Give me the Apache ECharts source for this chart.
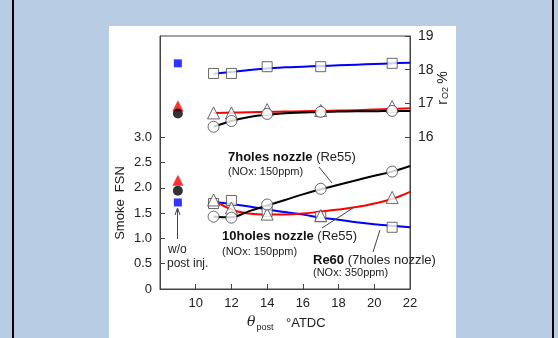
<!DOCTYPE html>
<html>
<head>
<meta charset="utf-8">
<script src="https://cdn.jsdelivr.net/npm/echarts@6/dist/echarts.min.js"></script>
<style>html,body{margin:0;padding:0;background:#b8cce4}#c{width:558px;height:338px}</style>
</head>
<body>
<div id="c"></div>
<script>
// ---- data ----
const xPost = [11, 12, 14, 17, 21];          // θpost, °ATDC
const xWo = [9];                              // "w/o post inj." position
const xFit = [11, 12, 13, 14, 15, 16, 17, 18, 19, 20, 21, 22];
const xTicks = [10, 12, 14, 16, 18, 20, 22];
const smokeTicks = [0, 0.5, 1.0, 1.5, 2.0, 2.5, 3.0];
const o2Ticks = [16, 17, 18, 19];

// O2 concentration (right axis, %)
const o2Re60 = [17.89, 17.89, 18.09, 18.09, 18.19];
const o2Ten = [16.72, 16.72, 16.82, 16.79, 16.91];
const o2Seven = [16.31, 16.48, 16.69, 16.75, 16.78];
const o2Re60Fit = [17.88, 17.93, 17.99, 18.04, 18.07, 18.09, 18.11, 18.13, 18.15, 18.17, 18.19, 18.21];
const o2TenFit = [16.72, 16.73, 16.74, 16.75, 16.76, 16.77, 16.78, 16.79, 16.80, 16.82, 16.84, 16.86];
const o2SevenFit = [16.31, 16.48, 16.60, 16.67, 16.71, 16.73, 16.75, 16.76, 16.77, 16.77, 16.78, 16.78];
const o2WoRe60 = [18.19];
const o2WoTen = [16.93];
const o2WoSeven = [16.70];

// Smoke FSN (left axis)
const smkSeven = [1.43, 1.41, 1.67, 1.98, 2.32];
const smkTen = [1.76, 1.60, 1.48, 1.45, 1.81];
const smkRe60 = [1.69, 1.75, 1.53, 1.43, 1.22];
const smkSevenFit = [1.43, 1.42, 1.54, 1.65, 1.76, 1.87, 1.97, 2.06, 2.15, 2.24, 2.32, 2.43];
const smkTenFit = [1.76, 1.57, 1.49, 1.47, 1.47, 1.49, 1.53, 1.57, 1.62, 1.69, 1.78, 1.92];
const smkRe60Fit = [1.72, 1.68, 1.63, 1.57, 1.52, 1.47, 1.41, 1.37, 1.32, 1.28, 1.25, 1.22];
const smkWoSeven = [1.94];
const smkWoTen = [2.15];
const smkWoRe60 = [1.71];

// ---- build ----
const pairs = (xs, ys) => xs.map((x, i) => [x, ys[i]]);
const FONT = '"Liberation Sans", Arial, sans-serif';
const AX = '#444';

function fitLine(xs, ys, color, yIdx) {
  return { type: 'line', data: pairs(xs, ys), yAxisIndex: yIdx, smooth: 0.4, showSymbol: false,
    lineStyle: { color: color, width: 2 }, silent: true, z: 2 };
}
function openMarks(xs, ys, symbol, size, yIdx, z) {
  return { type: 'scatter', data: pairs(xs, ys), yAxisIndex: yIdx, symbol: symbol, symbolSize: size,
    itemStyle: { color: '#fff', borderColor: '#444', borderWidth: 1 }, z: z };
}
function filledMarks(xs, ys, symbol, size, color, yIdx) {
  return { type: 'scatter', data: pairs(xs, ys), yAxisIndex: yIdx, symbol: symbol, symbolSize: size,
    itemStyle: { color: color }, z: 5 };
}

const chart = echarts.init(document.getElementById('c'), null, { renderer: 'canvas' });
chart.setOption({
  backgroundColor: '#b8cce4',
  animation: false,
  textStyle: { fontFamily: FONT },
  grid: { left: 160, right: 148, top: 36, bottom: 49, show: true, borderColor: AX, borderWidth: 1, backgroundColor: 'transparent' },
  xAxis: {
    type: 'value', min: 8, max: 22, interval: 2,
    axisLine: { show: true, onZero: false, lineStyle: { color: AX } },
    axisTick: { show: true, inside: true, length: 5, customValues: xTicks, lineStyle: { color: AX } },
    axisLabel: { customValues: xTicks, fontSize: 13, color: '#222', margin: 8, fontFamily: FONT },
    splitLine: { show: false }
  },
  yAxis: [
    {
      type: 'value', min: 0, max: 5, interval: 0.5, position: 'left',
      axisLine: { show: true, onZero: false, lineStyle: { color: AX } },
      axisTick: { show: true, inside: true, length: 5, customValues: smokeTicks, lineStyle: { color: AX } },
      axisLabel: { customValues: smokeTicks, fontSize: 13, color: '#222', margin: 8, fontFamily: FONT,
        formatter: v => v === 0 ? '0' : v.toFixed(1) },
      splitLine: { show: false }
    },
    {
      type: 'value', min: 11.5, max: 19, interval: 0.5, position: 'right',
      axisLine: { show: true, onZero: false, lineStyle: { color: AX } },
      axisTick: { show: true, inside: true, length: 5, customValues: o2Ticks, lineStyle: { color: AX } },
      axisLabel: { customValues: o2Ticks, fontSize: 14, color: '#222', margin: 8, fontFamily: FONT },
      splitLine: { show: false }
    }
  ],
  series: [
    fitLine(xFit, o2Re60Fit, '#0000ff', 1),
    fitLine(xFit, o2TenFit, '#ff0000', 1),
    fitLine(xFit, o2SevenFit, '#000000', 1),
    fitLine(xFit, smkRe60Fit, '#0000ff', 0),
    fitLine(xFit, smkTenFit, '#ff0000', 0),
    fitLine(xFit, smkSevenFit, '#000000', 0),
    openMarks(xPost, o2Re60, 'rect', 10, 1, 3),
    openMarks(xPost, o2Ten, 'triangle', 12, 1, 4),
    openMarks(xPost, o2Seven, 'circle', 11, 1, 5),
    openMarks(xPost, smkRe60, 'rect', 10, 0, 3),
    openMarks(xPost, smkTen, 'triangle', 12, 0, 4),
    openMarks(xPost, smkSeven, 'circle', 11, 0, 5),
    filledMarks(xWo, o2WoRe60, 'rect', 8, '#0000ff', 1),
    filledMarks(xWo, o2WoTen, 'triangle', 11, '#ff0000', 1),
    filledMarks(xWo, o2WoSeven, 'circle', 10, '#000000', 1),
    filledMarks(xWo, smkWoRe60, 'rect', 8, '#0000ff', 0),
    filledMarks(xWo, smkWoTen, 'triangle', 11, '#ff0000', 0),
    filledMarks(xWo, smkWoSeven, 'circle', 10, '#000000', 0)
  ],
  graphic: [
    { type: 'rect', z: -100, silent: true, shape: { x: 109, y: 26, width: 347, height: 320 }, style: { fill: '#ffffff' } },
    { type: 'rect', z: -100, silent: true, shape: { x: 12, y: 0, width: 2, height: 338 }, style: { fill: '#000' } },
    { type: 'rect', z: -100, silent: true, shape: { x: 552, y: 0, width: 2, height: 338 }, style: { fill: '#000' } },
    // axis names
    { type: 'text', z: 100, x: 120, y: 203, rotation: Math.PI / 2,
      style: { text: 'Smoke  FSN', font: '13px ' + FONT, fill: '#222', align: 'center', verticalAlign: 'middle' } },
    { type: 'text', z: 100, x: 443, y: 88, rotation: Math.PI / 2,
      style: { text: '{r|r}{s|O2} {p|%}', fill: '#222', align: 'center', verticalAlign: 'middle',
        rich: { r: { fontSize: 14, fontFamily: FONT, fill: '#222' }, s: { fontSize: 9, fontFamily: FONT, padding: [6, 0, 0, 1], fill: '#222' }, p: { fontSize: 14, fontFamily: FONT, fill: '#222' } } } },
    { type: 'text', z: 100, x: 247, y: 322,
      style: { text: '{t|θ}{s|post}', fill: '#222', align: 'left', verticalAlign: 'middle',
        rich: { t: { fontSize: 14, fontStyle: 'italic', fontFamily: '"DejaVu Serif", serif', fill: '#222' }, s: { fontSize: 9, fontFamily: FONT, padding: [12, 0, 0, 1], fill: '#222' } } } },
    { type: 'text', z: 100, x: 286, y: 323,
      style: { text: '°ATDC', font: '13px ' + FONT, fill: '#222', align: 'left', verticalAlign: 'middle' } },
    // annotations
    { type: 'text', z: 100, x: 228, y: 157,
      style: { text: '{b|7holes nozzle}{n| (Re55)}', fill: '#222', align: 'left', verticalAlign: 'middle',
        rich: { b: { fontSize: 13, fontWeight: 'bold', fontFamily: FONT, fill: '#111' }, n: { fontSize: 13, fontFamily: FONT, fill: '#222' } } } },
    { type: 'text', z: 100, x: 228, y: 172,
      style: { text: '(NOx: 150ppm)', font: '11px ' + FONT, fill: '#222', align: 'left', verticalAlign: 'middle' } },
    { type: 'text', z: 100, x: 222, y: 236,
      style: { text: '{b|10holes nozzle}{n| (Re55)}', fill: '#222', align: 'left', verticalAlign: 'middle',
        rich: { b: { fontSize: 13, fontWeight: 'bold', fontFamily: FONT, fill: '#111' }, n: { fontSize: 13, fontFamily: FONT, fill: '#222' } } } },
    { type: 'text', z: 100, x: 222, y: 252,
      style: { text: '(NOx: 150ppm)', font: '11px ' + FONT, fill: '#222', align: 'left', verticalAlign: 'middle' } },
    { type: 'text', z: 100, x: 313, y: 260,
      style: { text: '{b|Re60}{n| (7holes nozzle)}', fill: '#222', align: 'left', verticalAlign: 'middle',
        rich: { b: { fontSize: 13, fontWeight: 'bold', fontFamily: FONT, fill: '#111' }, n: { fontSize: 13, fontFamily: FONT, fill: '#222' } } } },
    { type: 'text', z: 100, x: 313, y: 273,
      style: { text: '(NOx: 350ppm)', font: '11px ' + FONT, fill: '#222', align: 'left', verticalAlign: 'middle' } },
    { type: 'text', z: 100, x: 168, y: 250,
      style: { text: 'w/o', font: '12px ' + FONT, fill: '#222', align: 'left', verticalAlign: 'middle' } },
    { type: 'text', z: 100, x: 167, y: 264,
      style: { text: 'post inj.', font: '12px ' + FONT, fill: '#222', align: 'left', verticalAlign: 'middle' } },
    // leader lines
    { type: 'line', z: 100, shape: { x1: 319, y1: 167, x2: 332, y2: 183 }, style: { stroke: '#444', lineWidth: 1 } },
    { type: 'line', z: 100, shape: { x1: 322, y1: 228, x2: 353, y2: 208 }, style: { stroke: '#444', lineWidth: 1 } },
    { type: 'line', z: 100, shape: { x1: 373, y1: 252, x2: 380, y2: 230 }, style: { stroke: '#444', lineWidth: 1 } },
    // arrow
    { type: 'line', z: 100, shape: { x1: 177.5, y1: 239, x2: 177.5, y2: 209 }, style: { stroke: '#444', lineWidth: 1 } },
    { type: 'polyline', z: 100, shape: { points: [[175, 215], [177.5, 208], [180, 215]] }, style: { stroke: '#444', lineWidth: 1, fill: null } }
  ]
});
</script>
</body>
</html>
